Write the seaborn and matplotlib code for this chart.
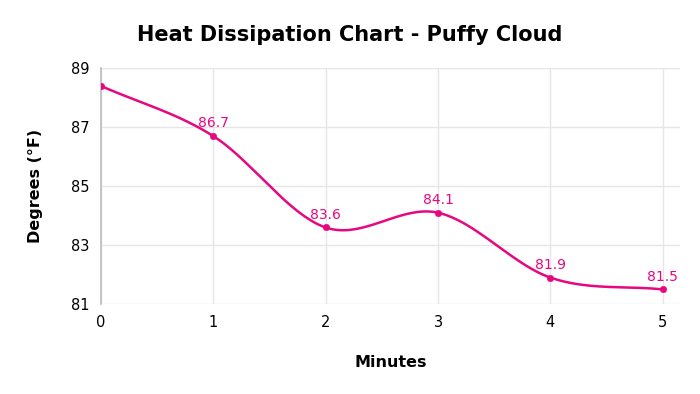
import numpy as np
import pandas as pd
import matplotlib
matplotlib.use('Agg')
import matplotlib.pyplot as plt
import seaborn as sns

# dados
minutos = [0, 1, 2, 3, 4, 5]
graus = [88.4, 86.7, 83.6, 84.1, 81.9, 81.5]
rotulos = ['', '86.7', '83.6', '84.1', '81.9', '81.5']

cor = '#E6087F'

sns.set_theme(style='whitegrid')
plt.rcParams['font.family'] = ['DejaVu Sans']
plt.rcParams['text.color'] = 'black'
plt.rcParams['axes.labelcolor'] = 'black'

# curva suave (catmull-rom) entre os pontos
def suavizar(x, y, n=40):
    x = np.asarray(x, float)
    y = np.asarray(y, float)
    px = np.concatenate([[2 * x[0] - x[1]], x, [2 * x[-1] - x[-2]]])
    py = np.concatenate([[2 * y[0] - y[1]], y, [2 * y[-1] - y[-2]]])
    xs, ys = [], []
    for i in range(1, len(px) - 2):
        t = np.linspace(0, 1, n)
        for p, out in ((px, xs), (py, ys)):
            p0, p1, p2, p3 = p[i - 1], p[i], p[i + 1], p[i + 2]
            out.append(0.5 * (2 * p1 + (-p0 + p2) * t
                              + (2 * p0 - 5 * p1 + 4 * p2 - p3) * t ** 2
                              + (-p0 + 3 * p1 - 3 * p2 + p3) * t ** 3))
    return np.concatenate(xs), np.concatenate(ys)

xs, ys = suavizar(minutos, graus)
curva = pd.DataFrame({'Minutes': xs, 'Degrees': ys})
pontos = pd.DataFrame({'Minutes': minutos, 'Degrees': graus})

fig = plt.figure(figsize=(7, 3.94), dpi=100)
ax = fig.add_axes([0.144, 0.228, 0.827, 0.599])

sns.lineplot(data=curva, x='Minutes', y='Degrees', color=cor, linewidth=1.8, ax=ax, sort=False)
sns.scatterplot(data=pontos, x='Minutes', y='Degrees', color=cor, s=22, edgecolor=cor, ax=ax, zorder=5)

for x, y, r in zip(minutos, graus, rotulos):
    if r:
        ax.annotate(r, (x, y), xytext=(0, 4), textcoords='offset points',
                    ha='center', va='bottom', color=cor, fontsize=10)

ax.set_xlim(0, 5.15)
ax.set_ylim(81, 89)
ax.set_xticks(minutos)
ax.set_yticks([81, 83, 85, 87, 89])
ax.grid(True, color='#e6e6e6', linewidth=1)
for s in ['top', 'right', 'bottom']:
    ax.spines[s].set_visible(False)
ax.spines['left'].set_color('#bbbbbb')
ax.spines['left'].set_linewidth(1.2)
ax.tick_params(axis='both', labelsize=10.5, colors='black', length=0, pad=8)

ax.set_xlabel('Minutes', fontsize=11.5, fontweight='bold', labelpad=18)
ax.set_ylabel('Degrees (°F)', fontsize=11.5, fontweight='bold', labelpad=20)
fig.text(0.5, 0.91, 'Heat Dissipation Chart - Puffy Cloud', ha='center', va='center',
         fontsize=15, fontweight='bold', color='black')

fig.savefig('out.png', dpi=100)
